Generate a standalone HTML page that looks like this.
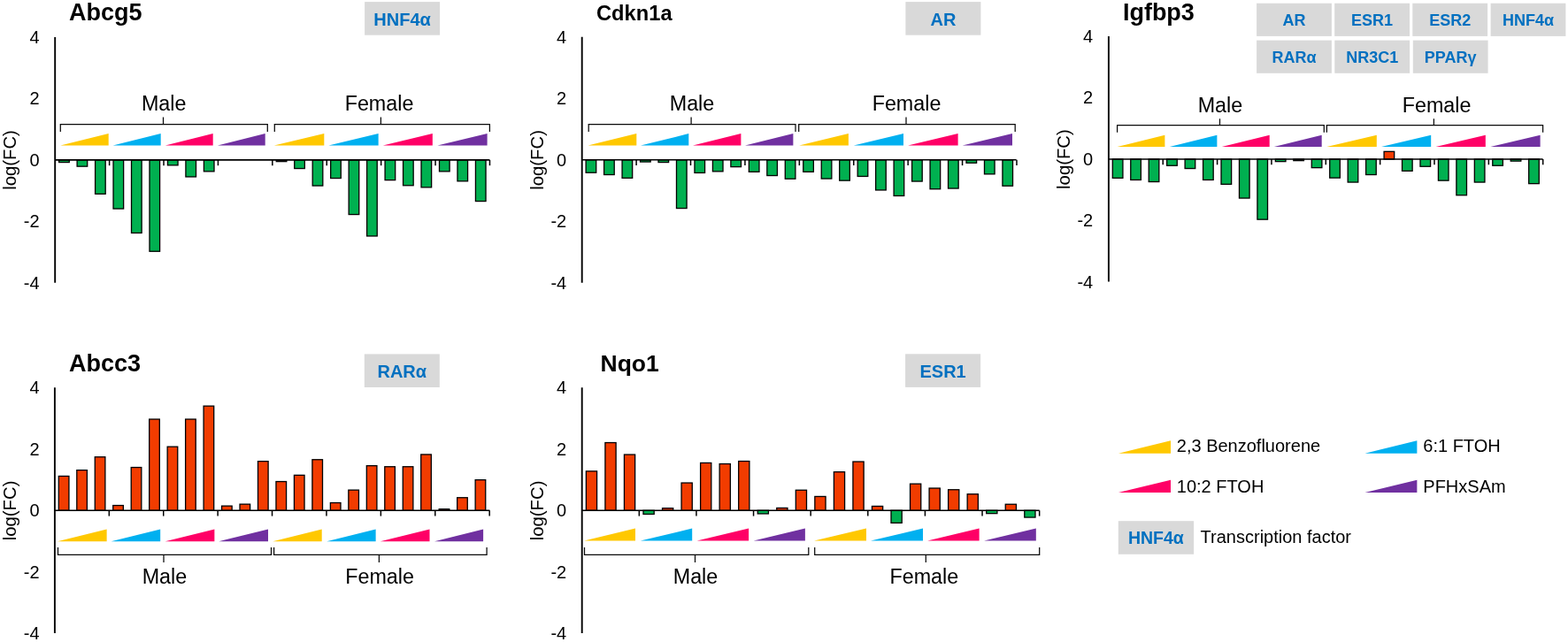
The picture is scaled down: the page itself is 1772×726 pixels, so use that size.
<!DOCTYPE html>
<html><head><meta charset="utf-8"><title>Figure</title>
<style>html,body{margin:0;padding:0;background:#fff;width:1772px;height:726px;overflow:hidden}svg{display:block}</style>
</head><body>
<svg width="1772" height="726" viewBox="0 0 1772 726">
<rect x="0" y="0" width="1772" height="726" fill="#FFFFFF"/>
<text x="78" y="23" font-family="'Liberation Sans', Arial, sans-serif" font-weight="bold" font-size="27" fill="#000">Abcg5</text>
<text x="44.6" y="48.85" text-anchor="end" font-family="'Liberation Sans', Arial, sans-serif" font-size="20" fill="#000">4</text>
<text x="44.6" y="118.28" text-anchor="end" font-family="'Liberation Sans', Arial, sans-serif" font-size="20" fill="#000">2</text>
<text x="44.6" y="187.7" text-anchor="end" font-family="'Liberation Sans', Arial, sans-serif" font-size="20" fill="#000">0</text>
<text x="44.6" y="257.12" text-anchor="end" font-family="'Liberation Sans', Arial, sans-serif" font-size="20" fill="#000">-2</text>
<text x="44.6" y="326.55" text-anchor="end" font-family="'Liberation Sans', Arial, sans-serif" font-size="20" fill="#000">-4</text>
<text transform="translate(18.4,181) rotate(-90)" text-anchor="middle" font-family="'Liberation Sans', Arial, sans-serif" font-size="20.3" fill="#000">log(FC)</text>
<rect x="66.64" y="180.9" width="11.6" height="2.65" fill="#00B050" stroke="#000" stroke-width="1.3"/>
<rect x="87.11" y="180.9" width="11.6" height="7.25" fill="#00B050" stroke="#000" stroke-width="1.3"/>
<rect x="107.58" y="180.9" width="11.6" height="38.45" fill="#00B050" stroke="#000" stroke-width="1.3"/>
<rect x="128.04" y="180.9" width="11.6" height="55.15" fill="#00B050" stroke="#000" stroke-width="1.3"/>
<rect x="148.52" y="180.9" width="11.6" height="82.55" fill="#00B050" stroke="#000" stroke-width="1.3"/>
<rect x="168.99" y="180.9" width="11.6" height="103.35" fill="#00B050" stroke="#000" stroke-width="1.3"/>
<rect x="189.46" y="180.9" width="11.6" height="5.95" fill="#00B050" stroke="#000" stroke-width="1.3"/>
<rect x="209.92" y="180.9" width="11.6" height="19.05" fill="#00B050" stroke="#000" stroke-width="1.3"/>
<rect x="230.4" y="180.9" width="11.6" height="12.95" fill="#00B050" stroke="#000" stroke-width="1.3"/>
<rect x="312.27" y="180.9" width="11.6" height="1.75" fill="#00B050" stroke="#000" stroke-width="1.3"/>
<rect x="332.74" y="180.9" width="11.6" height="9.65" fill="#00B050" stroke="#000" stroke-width="1.3"/>
<rect x="353.21" y="180.9" width="11.6" height="29.15" fill="#00B050" stroke="#000" stroke-width="1.3"/>
<rect x="373.68" y="180.9" width="11.6" height="20.65" fill="#00B050" stroke="#000" stroke-width="1.3"/>
<rect x="394.15" y="180.9" width="11.6" height="61.65" fill="#00B050" stroke="#000" stroke-width="1.3"/>
<rect x="414.62" y="180.9" width="11.6" height="86.05" fill="#00B050" stroke="#000" stroke-width="1.3"/>
<rect x="435.09" y="180.9" width="11.6" height="22.75" fill="#00B050" stroke="#000" stroke-width="1.3"/>
<rect x="455.56" y="180.9" width="11.6" height="28.85" fill="#00B050" stroke="#000" stroke-width="1.3"/>
<rect x="476.03" y="180.9" width="11.6" height="30.95" fill="#00B050" stroke="#000" stroke-width="1.3"/>
<rect x="496.5" y="180.9" width="11.6" height="12.95" fill="#00B050" stroke="#000" stroke-width="1.3"/>
<rect x="516.97" y="180.9" width="11.6" height="23.95" fill="#00B050" stroke="#000" stroke-width="1.3"/>
<rect x="537.44" y="180.9" width="11.6" height="46.65" fill="#00B050" stroke="#000" stroke-width="1.3"/>
<line x1="62.2" y1="180.9" x2="553.4" y2="180.9" stroke="#000" stroke-width="1.6"/>
<line x1="123.61" y1="180.9" x2="123.61" y2="187.2" stroke="#000" stroke-width="1.5"/>
<line x1="185.02" y1="180.9" x2="185.02" y2="187.2" stroke="#000" stroke-width="1.5"/>
<line x1="246.43" y1="180.9" x2="246.43" y2="187.2" stroke="#000" stroke-width="1.5"/>
<line x1="307.84" y1="180.9" x2="307.84" y2="187.2" stroke="#000" stroke-width="1.5"/>
<line x1="369.25" y1="180.9" x2="369.25" y2="187.2" stroke="#000" stroke-width="1.5"/>
<line x1="430.66" y1="180.9" x2="430.66" y2="187.2" stroke="#000" stroke-width="1.5"/>
<line x1="492.07" y1="180.9" x2="492.07" y2="187.2" stroke="#000" stroke-width="1.5"/>
<line x1="553.48" y1="180.9" x2="553.48" y2="187.2" stroke="#000" stroke-width="1.5"/>
<line x1="62.2" y1="42" x2="62.2" y2="319.7" stroke="#000" stroke-width="1.9"/>
<polygon points="68.3,164.6 122.7,151.1 122.7,164.6" fill="#FFC800"/>
<polygon points="127.6,164.6 181.7,151.1 181.7,164.6" fill="#00B0F0"/>
<polygon points="186.8,164.6 240.7,151.1 240.7,164.6" fill="#FF0066"/>
<polygon points="245.9,164.6 299.7,151.1 299.7,164.6" fill="#7030A0"/>
<polygon points="309.8,164.6 366.3,151.1 366.3,164.6" fill="#FFC800"/>
<polygon points="371.4,164.6 427.6,151.1 427.6,164.6" fill="#00B0F0"/>
<polygon points="432.8,164.6 488.8,151.1 488.8,164.6" fill="#FF0066"/>
<polygon points="494.4,164.6 550.6,151.1 550.6,164.6" fill="#7030A0"/>
<path d="M68.3,149 L68.3,140.6 L302.3,140.6 L302.3,149 M184.5,140.6 L184.5,132.5" fill="none" stroke="#0a0a0a" stroke-width="1.25"/>
<path d="M310.3,149 L310.3,140.6 L553.4,140.6 L553.4,149 M430.4,140.6 L430.4,132.5" fill="none" stroke="#0a0a0a" stroke-width="1.25"/>
<text x="185.2" y="125.3" text-anchor="middle" font-family="'Liberation Sans', Arial, sans-serif" font-size="23.3" fill="#000">Male</text>
<text x="428.5" y="125.3" text-anchor="middle" font-family="'Liberation Sans', Arial, sans-serif" font-size="23.3" fill="#000">Female</text>
<rect x="412.1" y="2.1" width="85" height="37.6" fill="#D9D9D9"/>
<text x="454.6" y="28.5" text-anchor="middle" font-family="'Liberation Sans', Arial, sans-serif" font-weight="bold" font-size="20" fill="#0070C0">HNF4α</text>
<text x="674" y="23.4" font-family="'Liberation Sans', Arial, sans-serif" font-weight="bold" font-size="23.7" fill="#000">Cdkn1a</text>
<text x="640.2" y="48.65" text-anchor="end" font-family="'Liberation Sans', Arial, sans-serif" font-size="20" fill="#000">4</text>
<text x="640.2" y="118.13" text-anchor="end" font-family="'Liberation Sans', Arial, sans-serif" font-size="20" fill="#000">2</text>
<text x="640.2" y="187.6" text-anchor="end" font-family="'Liberation Sans', Arial, sans-serif" font-size="20" fill="#000">0</text>
<text x="640.2" y="257.07" text-anchor="end" font-family="'Liberation Sans', Arial, sans-serif" font-size="20" fill="#000">-2</text>
<text x="640.2" y="326.55" text-anchor="end" font-family="'Liberation Sans', Arial, sans-serif" font-size="20" fill="#000">-4</text>
<text transform="translate(613.9,180.9) rotate(-90)" text-anchor="middle" font-family="'Liberation Sans', Arial, sans-serif" font-size="20.3" fill="#000">log(FC)</text>
<rect x="662.13" y="180.8" width="11.6" height="14.45" fill="#00B050" stroke="#000" stroke-width="1.3"/>
<rect x="682.61" y="180.8" width="11.6" height="16.75" fill="#00B050" stroke="#000" stroke-width="1.3"/>
<rect x="703.07" y="180.8" width="11.6" height="20.55" fill="#00B050" stroke="#000" stroke-width="1.3"/>
<rect x="723.54" y="180.8" width="11.6" height="2.25" fill="#00B050" stroke="#000" stroke-width="1.3"/>
<rect x="744.01" y="180.8" width="11.6" height="2.75" fill="#00B050" stroke="#000" stroke-width="1.3"/>
<rect x="764.49" y="180.8" width="11.6" height="54.75" fill="#00B050" stroke="#000" stroke-width="1.3"/>
<rect x="784.96" y="180.8" width="11.6" height="14.65" fill="#00B050" stroke="#000" stroke-width="1.3"/>
<rect x="805.42" y="180.8" width="11.6" height="13.05" fill="#00B050" stroke="#000" stroke-width="1.3"/>
<rect x="825.89" y="180.8" width="11.6" height="7.85" fill="#00B050" stroke="#000" stroke-width="1.3"/>
<rect x="846.36" y="180.8" width="11.6" height="13.55" fill="#00B050" stroke="#000" stroke-width="1.3"/>
<rect x="866.83" y="180.8" width="11.6" height="17.75" fill="#00B050" stroke="#000" stroke-width="1.3"/>
<rect x="887.3" y="180.8" width="11.6" height="21.45" fill="#00B050" stroke="#000" stroke-width="1.3"/>
<rect x="907.77" y="180.8" width="11.6" height="13.55" fill="#00B050" stroke="#000" stroke-width="1.3"/>
<rect x="928.25" y="180.8" width="11.6" height="21.25" fill="#00B050" stroke="#000" stroke-width="1.3"/>
<rect x="948.72" y="180.8" width="11.6" height="23.35" fill="#00B050" stroke="#000" stroke-width="1.3"/>
<rect x="969.18" y="180.8" width="11.6" height="18.65" fill="#00B050" stroke="#000" stroke-width="1.3"/>
<rect x="989.65" y="180.8" width="11.6" height="34.15" fill="#00B050" stroke="#000" stroke-width="1.3"/>
<rect x="1010.12" y="180.8" width="11.6" height="40.65" fill="#00B050" stroke="#000" stroke-width="1.3"/>
<rect x="1030.6" y="180.8" width="11.6" height="24.25" fill="#00B050" stroke="#000" stroke-width="1.3"/>
<rect x="1051.07" y="180.8" width="11.6" height="32.95" fill="#00B050" stroke="#000" stroke-width="1.3"/>
<rect x="1071.54" y="180.8" width="11.6" height="32.25" fill="#00B050" stroke="#000" stroke-width="1.3"/>
<rect x="1092.01" y="180.8" width="11.6" height="3.45" fill="#00B050" stroke="#000" stroke-width="1.3"/>
<rect x="1112.48" y="180.8" width="11.6" height="16.05" fill="#00B050" stroke="#000" stroke-width="1.3"/>
<rect x="1132.94" y="180.8" width="11.6" height="29.45" fill="#00B050" stroke="#000" stroke-width="1.3"/>
<line x1="657.7" y1="180.8" x2="1148.6" y2="180.8" stroke="#000" stroke-width="1.6"/>
<line x1="719.11" y1="180.8" x2="719.11" y2="187.1" stroke="#000" stroke-width="1.5"/>
<line x1="780.52" y1="180.8" x2="780.52" y2="187.1" stroke="#000" stroke-width="1.5"/>
<line x1="841.93" y1="180.8" x2="841.93" y2="187.1" stroke="#000" stroke-width="1.5"/>
<line x1="903.34" y1="180.8" x2="903.34" y2="187.1" stroke="#000" stroke-width="1.5"/>
<line x1="964.75" y1="180.8" x2="964.75" y2="187.1" stroke="#000" stroke-width="1.5"/>
<line x1="1026.16" y1="180.8" x2="1026.16" y2="187.1" stroke="#000" stroke-width="1.5"/>
<line x1="1087.57" y1="180.8" x2="1087.57" y2="187.1" stroke="#000" stroke-width="1.5"/>
<line x1="1148.98" y1="180.8" x2="1148.98" y2="187.1" stroke="#000" stroke-width="1.5"/>
<line x1="657.7" y1="41.8" x2="657.7" y2="319.7" stroke="#000" stroke-width="1.9"/>
<polygon points="664.5,164.6 719.3,151.1 719.3,164.6" fill="#FFC800"/>
<polygon points="724,164.6 778.3,151.1 778.3,164.6" fill="#00B0F0"/>
<polygon points="783,164.6 837.4,151.1 837.4,164.6" fill="#FF0066"/>
<polygon points="842,164.6 896.4,151.1 896.4,164.6" fill="#7030A0"/>
<polygon points="903.2,164.6 958.9,151.1 958.9,164.6" fill="#FFC800"/>
<polygon points="964.8,164.6 1021,151.1 1021,164.6" fill="#00B0F0"/>
<polygon points="1026.1,164.6 1082.6,151.1 1082.6,164.6" fill="#FF0066"/>
<polygon points="1087.7,164.6 1144,151.1 1144,164.6" fill="#7030A0"/>
<path d="M665.2,149 L665.2,140.5 L899,140.5 L899,149 M781.1,140.5 L781.1,132.5" fill="none" stroke="#0a0a0a" stroke-width="1.25"/>
<path d="M902.7,149 L902.7,140.5 L1147.2,140.5 L1147.2,149 M1024,140.5 L1024,132.5" fill="none" stroke="#0a0a0a" stroke-width="1.25"/>
<text x="782" y="125.3" text-anchor="middle" font-family="'Liberation Sans', Arial, sans-serif" font-size="23.3" fill="#000">Male</text>
<text x="1024.5" y="125.3" text-anchor="middle" font-family="'Liberation Sans', Arial, sans-serif" font-size="23.3" fill="#000">Female</text>
<rect x="1023.4" y="2.1" width="85" height="37.6" fill="#D9D9D9"/>
<text x="1065.9" y="28.5" text-anchor="middle" font-family="'Liberation Sans', Arial, sans-serif" font-weight="bold" font-size="20" fill="#0070C0">AR</text>
<text x="1268.9" y="22.5" font-family="'Liberation Sans', Arial, sans-serif" font-weight="bold" font-size="27" fill="#000">Igfbp3</text>
<text x="1235.2" y="48" text-anchor="end" font-family="'Liberation Sans', Arial, sans-serif" font-size="20" fill="#000">4</text>
<text x="1235.2" y="117.4" text-anchor="end" font-family="'Liberation Sans', Arial, sans-serif" font-size="20" fill="#000">2</text>
<text x="1235.2" y="186.8" text-anchor="end" font-family="'Liberation Sans', Arial, sans-serif" font-size="20" fill="#000">0</text>
<text x="1235.2" y="256.2" text-anchor="end" font-family="'Liberation Sans', Arial, sans-serif" font-size="20" fill="#000">-2</text>
<text x="1235.2" y="325.6" text-anchor="end" font-family="'Liberation Sans', Arial, sans-serif" font-size="20" fill="#000">-4</text>
<text transform="translate(1209.1,180.1) rotate(-90)" text-anchor="middle" font-family="'Liberation Sans', Arial, sans-serif" font-size="20.3" fill="#000">log(FC)</text>
<rect x="1257.33" y="180" width="11.6" height="21.35" fill="#00B050" stroke="#000" stroke-width="1.3"/>
<rect x="1277.78" y="180" width="11.6" height="23.45" fill="#00B050" stroke="#000" stroke-width="1.3"/>
<rect x="1298.23" y="180" width="11.6" height="25.55" fill="#00B050" stroke="#000" stroke-width="1.3"/>
<rect x="1318.68" y="180" width="11.6" height="7.25" fill="#00B050" stroke="#000" stroke-width="1.3"/>
<rect x="1339.13" y="180" width="11.6" height="10.55" fill="#00B050" stroke="#000" stroke-width="1.3"/>
<rect x="1359.58" y="180" width="11.6" height="23.45" fill="#00B050" stroke="#000" stroke-width="1.3"/>
<rect x="1380.03" y="180" width="11.6" height="28.35" fill="#00B050" stroke="#000" stroke-width="1.3"/>
<rect x="1400.48" y="180" width="11.6" height="44.05" fill="#00B050" stroke="#000" stroke-width="1.3"/>
<rect x="1420.93" y="180" width="11.6" height="68.15" fill="#00B050" stroke="#000" stroke-width="1.3"/>
<rect x="1441.38" y="180" width="11.6" height="2.65" fill="#00B050" stroke="#000" stroke-width="1.3"/>
<rect x="1461.83" y="180" width="11.6" height="1.65" fill="#00B050" stroke="#000" stroke-width="1.3"/>
<rect x="1482.28" y="180" width="11.6" height="9.65" fill="#00B050" stroke="#000" stroke-width="1.3"/>
<rect x="1502.73" y="180" width="11.6" height="21.15" fill="#00B050" stroke="#000" stroke-width="1.3"/>
<rect x="1523.18" y="180" width="11.6" height="26.05" fill="#00B050" stroke="#000" stroke-width="1.3"/>
<rect x="1543.63" y="180" width="11.6" height="17.55" fill="#00B050" stroke="#000" stroke-width="1.3"/>
<rect x="1564.08" y="171.35" width="11.6" height="8.65" fill="#F23C00" stroke="#000" stroke-width="1.3"/>
<rect x="1584.53" y="180" width="11.6" height="13.35" fill="#00B050" stroke="#000" stroke-width="1.3"/>
<rect x="1604.98" y="180" width="11.6" height="8.25" fill="#00B050" stroke="#000" stroke-width="1.3"/>
<rect x="1625.43" y="180" width="11.6" height="24.15" fill="#00B050" stroke="#000" stroke-width="1.3"/>
<rect x="1645.88" y="180" width="11.6" height="40.75" fill="#00B050" stroke="#000" stroke-width="1.3"/>
<rect x="1666.33" y="180" width="11.6" height="26.05" fill="#00B050" stroke="#000" stroke-width="1.3"/>
<rect x="1686.78" y="180" width="11.6" height="7.25" fill="#00B050" stroke="#000" stroke-width="1.3"/>
<rect x="1707.23" y="180" width="11.6" height="2.15" fill="#00B050" stroke="#000" stroke-width="1.3"/>
<rect x="1727.68" y="180" width="11.6" height="27.65" fill="#00B050" stroke="#000" stroke-width="1.3"/>
<line x1="1252.9" y1="180" x2="1743.6" y2="180" stroke="#000" stroke-width="1.6"/>
<line x1="1314.25" y1="180" x2="1314.25" y2="186.3" stroke="#000" stroke-width="1.5"/>
<line x1="1375.6" y1="180" x2="1375.6" y2="186.3" stroke="#000" stroke-width="1.5"/>
<line x1="1436.95" y1="180" x2="1436.95" y2="186.3" stroke="#000" stroke-width="1.5"/>
<line x1="1498.3" y1="180" x2="1498.3" y2="186.3" stroke="#000" stroke-width="1.5"/>
<line x1="1559.65" y1="180" x2="1559.65" y2="186.3" stroke="#000" stroke-width="1.5"/>
<line x1="1621" y1="180" x2="1621" y2="186.3" stroke="#000" stroke-width="1.5"/>
<line x1="1682.35" y1="180" x2="1682.35" y2="186.3" stroke="#000" stroke-width="1.5"/>
<line x1="1743.7" y1="180" x2="1743.7" y2="186.3" stroke="#000" stroke-width="1.5"/>
<line x1="1252.9" y1="41" x2="1252.9" y2="318.6" stroke="#000" stroke-width="1.9"/>
<polygon points="1262.6,166.1 1316.4,152.7 1316.4,166.1" fill="#FFC800"/>
<polygon points="1321.8,166.1 1375.4,152.7 1375.4,166.1" fill="#00B0F0"/>
<polygon points="1380.8,166.1 1434.7,152.7 1434.7,166.1" fill="#FF0066"/>
<polygon points="1439.8,166.1 1493.7,152.7 1493.7,166.1" fill="#7030A0"/>
<polygon points="1499.4,166.1 1555.8,152.7 1555.8,166.1" fill="#FFC800"/>
<polygon points="1561,166.1 1617.2,152.7 1617.2,166.1" fill="#00B0F0"/>
<polygon points="1622.6,166.1 1678.8,152.7 1678.8,166.1" fill="#FF0066"/>
<polygon points="1684.4,166.1 1740.6,152.7 1740.6,166.1" fill="#7030A0"/>
<path d="M1262.6,149.7 L1262.6,141.5 L1496.3,141.5 L1496.3,149.7 M1378.5,141.5 L1378.5,134.2" fill="none" stroke="#0a0a0a" stroke-width="1.25"/>
<path d="M1499.4,149.7 L1499.4,141.5 L1743.6,141.5 L1743.6,149.7 M1620.4,141.5 L1620.4,134.2" fill="none" stroke="#0a0a0a" stroke-width="1.25"/>
<text x="1378.9" y="126.6" text-anchor="middle" font-family="'Liberation Sans', Arial, sans-serif" font-size="23.3" fill="#000">Male</text>
<text x="1623.6" y="126.6" text-anchor="middle" font-family="'Liberation Sans', Arial, sans-serif" font-size="23.3" fill="#000">Female</text>
<text x="78" y="420.1" font-family="'Liberation Sans', Arial, sans-serif" font-weight="bold" font-size="27" fill="#000">Abcc3</text>
<text x="44.6" y="445.25" text-anchor="end" font-family="'Liberation Sans', Arial, sans-serif" font-size="20" fill="#000">4</text>
<text x="44.6" y="514.67" text-anchor="end" font-family="'Liberation Sans', Arial, sans-serif" font-size="20" fill="#000">2</text>
<text x="44.6" y="584.1" text-anchor="end" font-family="'Liberation Sans', Arial, sans-serif" font-size="20" fill="#000">0</text>
<text x="44.6" y="653.52" text-anchor="end" font-family="'Liberation Sans', Arial, sans-serif" font-size="20" fill="#000">-2</text>
<text x="44.6" y="722.95" text-anchor="end" font-family="'Liberation Sans', Arial, sans-serif" font-size="20" fill="#000">-4</text>
<text transform="translate(18.1,577.4) rotate(-90)" text-anchor="middle" font-family="'Liberation Sans', Arial, sans-serif" font-size="20.3" fill="#000">log(FC)</text>
<rect x="66.33" y="538.45" width="11.6" height="38.85" fill="#F23C00" stroke="#000" stroke-width="1.3"/>
<rect x="86.8" y="531.65" width="11.6" height="45.65" fill="#F23C00" stroke="#000" stroke-width="1.3"/>
<rect x="107.27" y="516.75" width="11.6" height="60.55" fill="#F23C00" stroke="#000" stroke-width="1.3"/>
<rect x="127.74" y="571.55" width="11.6" height="5.75" fill="#F23C00" stroke="#000" stroke-width="1.3"/>
<rect x="148.22" y="528.55" width="11.6" height="48.75" fill="#F23C00" stroke="#000" stroke-width="1.3"/>
<rect x="168.69" y="474.05" width="11.6" height="103.25" fill="#F23C00" stroke="#000" stroke-width="1.3"/>
<rect x="189.16" y="505.15" width="11.6" height="72.15" fill="#F23C00" stroke="#000" stroke-width="1.3"/>
<rect x="209.62" y="474.05" width="11.6" height="103.25" fill="#F23C00" stroke="#000" stroke-width="1.3"/>
<rect x="230.1" y="459.15" width="11.6" height="118.15" fill="#F23C00" stroke="#000" stroke-width="1.3"/>
<rect x="250.56" y="572.15" width="11.6" height="5.15" fill="#F23C00" stroke="#000" stroke-width="1.3"/>
<rect x="271.03" y="570.15" width="11.6" height="7.15" fill="#F23C00" stroke="#000" stroke-width="1.3"/>
<rect x="291.5" y="521.65" width="11.6" height="55.65" fill="#F23C00" stroke="#000" stroke-width="1.3"/>
<rect x="311.97" y="544.55" width="11.6" height="32.75" fill="#F23C00" stroke="#000" stroke-width="1.3"/>
<rect x="332.44" y="537.35" width="11.6" height="39.95" fill="#F23C00" stroke="#000" stroke-width="1.3"/>
<rect x="352.91" y="519.75" width="11.6" height="57.55" fill="#F23C00" stroke="#000" stroke-width="1.3"/>
<rect x="373.38" y="568.55" width="11.6" height="8.75" fill="#F23C00" stroke="#000" stroke-width="1.3"/>
<rect x="393.85" y="554.15" width="11.6" height="23.15" fill="#F23C00" stroke="#000" stroke-width="1.3"/>
<rect x="414.32" y="526.65" width="11.6" height="50.65" fill="#F23C00" stroke="#000" stroke-width="1.3"/>
<rect x="434.79" y="527.75" width="11.6" height="49.55" fill="#F23C00" stroke="#000" stroke-width="1.3"/>
<rect x="455.26" y="527.75" width="11.6" height="49.55" fill="#F23C00" stroke="#000" stroke-width="1.3"/>
<rect x="475.73" y="513.95" width="11.6" height="63.35" fill="#F23C00" stroke="#000" stroke-width="1.3"/>
<rect x="496.2" y="575.65" width="11.6" height="1.65" fill="#F23C00" stroke="#000" stroke-width="1.3"/>
<rect x="516.67" y="562.75" width="11.6" height="14.55" fill="#F23C00" stroke="#000" stroke-width="1.3"/>
<rect x="537.14" y="542.65" width="11.6" height="34.65" fill="#F23C00" stroke="#000" stroke-width="1.3"/>
<line x1="61.9" y1="577.3" x2="553.4" y2="577.3" stroke="#000" stroke-width="1.6"/>
<line x1="123.31" y1="577.3" x2="123.31" y2="583.6" stroke="#000" stroke-width="1.5"/>
<line x1="184.72" y1="577.3" x2="184.72" y2="583.6" stroke="#000" stroke-width="1.5"/>
<line x1="246.13" y1="577.3" x2="246.13" y2="583.6" stroke="#000" stroke-width="1.5"/>
<line x1="307.54" y1="577.3" x2="307.54" y2="583.6" stroke="#000" stroke-width="1.5"/>
<line x1="368.95" y1="577.3" x2="368.95" y2="583.6" stroke="#000" stroke-width="1.5"/>
<line x1="430.36" y1="577.3" x2="430.36" y2="583.6" stroke="#000" stroke-width="1.5"/>
<line x1="491.77" y1="577.3" x2="491.77" y2="583.6" stroke="#000" stroke-width="1.5"/>
<line x1="553.18" y1="577.3" x2="553.18" y2="583.6" stroke="#000" stroke-width="1.5"/>
<line x1="61.9" y1="438.3" x2="61.9" y2="716" stroke="#000" stroke-width="1.9"/>
<polygon points="65,612.2 120.6,598.4 120.6,612.2" fill="#FFC800"/>
<polygon points="125.6,612.2 181.2,598.4 181.2,612.2" fill="#00B0F0"/>
<polygon points="186.7,612.2 242.4,598.4 242.4,612.2" fill="#FF0066"/>
<polygon points="247.3,612.2 303,598.4 303,612.2" fill="#7030A0"/>
<polygon points="308.3,612.2 363.7,598.4 363.7,612.2" fill="#FFC800"/>
<polygon points="369.2,612.2 424.6,598.4 424.6,612.2" fill="#00B0F0"/>
<polygon points="429.8,612.2 485.5,598.4 485.5,612.2" fill="#FF0066"/>
<polygon points="491,612.2 546.1,598.4 546.1,612.2" fill="#7030A0"/>
<path d="M65.5,619 L65.5,627.3 L306.5,627.3 L306.5,619 M185,627.3 L185,636" fill="none" stroke="#0a0a0a" stroke-width="1.25"/>
<path d="M309.6,619 L309.6,627.3 L550.1,627.3 L550.1,619 M428.4,627.3 L428.4,636" fill="none" stroke="#0a0a0a" stroke-width="1.25"/>
<text x="185.9" y="659.8" text-anchor="middle" font-family="'Liberation Sans', Arial, sans-serif" font-size="23.3" fill="#000">Male</text>
<text x="429.1" y="659.8" text-anchor="middle" font-family="'Liberation Sans', Arial, sans-serif" font-size="23.3" fill="#000">Female</text>
<rect x="411.8" y="400.4" width="85" height="37.6" fill="#D9D9D9"/>
<text x="454.3" y="426.8" text-anchor="middle" font-family="'Liberation Sans', Arial, sans-serif" font-weight="bold" font-size="20" fill="#0070C0">RARα</text>
<text x="678.5" y="419.5" font-family="'Liberation Sans', Arial, sans-serif" font-weight="bold" font-size="26.5" fill="#000">Nqo1</text>
<text x="640.2" y="445.25" text-anchor="end" font-family="'Liberation Sans', Arial, sans-serif" font-size="20" fill="#000">4</text>
<text x="640.2" y="514.67" text-anchor="end" font-family="'Liberation Sans', Arial, sans-serif" font-size="20" fill="#000">2</text>
<text x="640.2" y="584.1" text-anchor="end" font-family="'Liberation Sans', Arial, sans-serif" font-size="20" fill="#000">0</text>
<text x="640.2" y="653.52" text-anchor="end" font-family="'Liberation Sans', Arial, sans-serif" font-size="20" fill="#000">-2</text>
<text x="640.2" y="722.95" text-anchor="end" font-family="'Liberation Sans', Arial, sans-serif" font-size="20" fill="#000">-4</text>
<text transform="translate(613.9,577.4) rotate(-90)" text-anchor="middle" font-family="'Liberation Sans', Arial, sans-serif" font-size="20.3" fill="#000">log(FC)</text>
<rect x="662.37" y="532.85" width="12.2" height="44.45" fill="#F23C00" stroke="#000" stroke-width="1.3"/>
<rect x="683.91" y="500.55" width="12.2" height="76.75" fill="#F23C00" stroke="#000" stroke-width="1.3"/>
<rect x="705.45" y="514.05" width="12.2" height="63.25" fill="#F23C00" stroke="#000" stroke-width="1.3"/>
<rect x="726.99" y="577.3" width="12.2" height="4.15" fill="#00B050" stroke="#000" stroke-width="1.3"/>
<rect x="748.53" y="574.65" width="12.2" height="2.65" fill="#F23C00" stroke="#000" stroke-width="1.3"/>
<rect x="770.07" y="546.05" width="12.2" height="31.25" fill="#F23C00" stroke="#000" stroke-width="1.3"/>
<rect x="791.61" y="523.45" width="12.2" height="53.85" fill="#F23C00" stroke="#000" stroke-width="1.3"/>
<rect x="813.15" y="524.55" width="12.2" height="52.75" fill="#F23C00" stroke="#000" stroke-width="1.3"/>
<rect x="834.69" y="521.55" width="12.2" height="55.75" fill="#F23C00" stroke="#000" stroke-width="1.3"/>
<rect x="856.23" y="577.3" width="12.2" height="3.65" fill="#00B050" stroke="#000" stroke-width="1.3"/>
<rect x="877.77" y="574.45" width="12.2" height="2.85" fill="#F23C00" stroke="#000" stroke-width="1.3"/>
<rect x="899.31" y="554.25" width="12.2" height="23.05" fill="#F23C00" stroke="#000" stroke-width="1.3"/>
<rect x="920.85" y="561.45" width="12.2" height="15.85" fill="#F23C00" stroke="#000" stroke-width="1.3"/>
<rect x="942.39" y="533.65" width="12.2" height="43.65" fill="#F23C00" stroke="#000" stroke-width="1.3"/>
<rect x="963.93" y="522.05" width="12.2" height="55.25" fill="#F23C00" stroke="#000" stroke-width="1.3"/>
<rect x="985.47" y="572.45" width="12.2" height="4.85" fill="#F23C00" stroke="#000" stroke-width="1.3"/>
<rect x="1007.01" y="577.3" width="12.2" height="14.05" fill="#00B050" stroke="#000" stroke-width="1.3"/>
<rect x="1028.55" y="547.15" width="12.2" height="30.15" fill="#F23C00" stroke="#000" stroke-width="1.3"/>
<rect x="1050.09" y="552.05" width="12.2" height="25.25" fill="#F23C00" stroke="#000" stroke-width="1.3"/>
<rect x="1071.63" y="553.75" width="12.2" height="23.55" fill="#F23C00" stroke="#000" stroke-width="1.3"/>
<rect x="1093.17" y="558.75" width="12.2" height="18.55" fill="#F23C00" stroke="#000" stroke-width="1.3"/>
<rect x="1114.71" y="577.3" width="12.2" height="3.35" fill="#00B050" stroke="#000" stroke-width="1.3"/>
<rect x="1136.25" y="570.25" width="12.2" height="7.05" fill="#F23C00" stroke="#000" stroke-width="1.3"/>
<rect x="1157.79" y="577.3" width="12.2" height="7.75" fill="#00B050" stroke="#000" stroke-width="1.3"/>
<line x1="657.7" y1="577.3" x2="1174.7" y2="577.3" stroke="#000" stroke-width="1.6"/>
<line x1="722.32" y1="577.3" x2="722.32" y2="583.6" stroke="#000" stroke-width="1.5"/>
<line x1="786.94" y1="577.3" x2="786.94" y2="583.6" stroke="#000" stroke-width="1.5"/>
<line x1="851.56" y1="577.3" x2="851.56" y2="583.6" stroke="#000" stroke-width="1.5"/>
<line x1="916.18" y1="577.3" x2="916.18" y2="583.6" stroke="#000" stroke-width="1.5"/>
<line x1="980.8" y1="577.3" x2="980.8" y2="583.6" stroke="#000" stroke-width="1.5"/>
<line x1="1045.42" y1="577.3" x2="1045.42" y2="583.6" stroke="#000" stroke-width="1.5"/>
<line x1="1110.04" y1="577.3" x2="1110.04" y2="583.6" stroke="#000" stroke-width="1.5"/>
<line x1="1174.66" y1="577.3" x2="1174.66" y2="583.6" stroke="#000" stroke-width="1.5"/>
<line x1="657.7" y1="438.3" x2="657.7" y2="716" stroke="#000" stroke-width="1.9"/>
<polygon points="660.2,611.6 718,597.6 718,611.6" fill="#FFC800"/>
<polygon points="723.8,611.6 782.2,597.6 782.2,611.6" fill="#00B0F0"/>
<polygon points="787.7,611.6 846.1,597.6 846.1,611.6" fill="#FF0066"/>
<polygon points="851.7,611.6 909.9,597.6 909.9,611.6" fill="#7030A0"/>
<polygon points="920.1,611.6 979,597.6 979,611.6" fill="#FFC800"/>
<polygon points="984,611.6 1043,597.6 1043,611.6" fill="#00B0F0"/>
<polygon points="1048.2,611.6 1106.6,597.6 1106.6,611.6" fill="#FF0066"/>
<polygon points="1112.1,611.6 1170.8,597.6 1170.8,611.6" fill="#7030A0"/>
<path d="M660.5,619 L660.5,627.3 L913.8,627.3 L913.8,619 M785.5,627.3 L785.5,636" fill="none" stroke="#0a0a0a" stroke-width="1.25"/>
<path d="M920.7,619 L920.7,627.3 L1174.7,627.3 L1174.7,619 M1046.3,627.3 L1046.3,636" fill="none" stroke="#0a0a0a" stroke-width="1.25"/>
<text x="786" y="659.8" text-anchor="middle" font-family="'Liberation Sans', Arial, sans-serif" font-size="23.3" fill="#000">Male</text>
<text x="1044.3" y="659.8" text-anchor="middle" font-family="'Liberation Sans', Arial, sans-serif" font-size="23.3" fill="#000">Female</text>
<rect x="1023.1" y="400.3" width="85" height="37.6" fill="#D9D9D9"/>
<text x="1065.6" y="426.7" text-anchor="middle" font-family="'Liberation Sans', Arial, sans-serif" font-weight="bold" font-size="20" fill="#0070C0">ESR1</text>
<rect x="1420.1" y="3.7" width="84.8" height="37.2" fill="#D9D9D9"/>
<text x="1462.5" y="29.2" text-anchor="middle" font-family="'Liberation Sans', Arial, sans-serif" font-weight="bold" font-size="18" fill="#0070C0">AR</text>
<rect x="1508.2" y="3.7" width="84.8" height="37.2" fill="#D9D9D9"/>
<text x="1550.6" y="29.2" text-anchor="middle" font-family="'Liberation Sans', Arial, sans-serif" font-weight="bold" font-size="18" fill="#0070C0">ESR1</text>
<rect x="1596.3" y="3.7" width="84.8" height="37.2" fill="#D9D9D9"/>
<text x="1638.7" y="29.2" text-anchor="middle" font-family="'Liberation Sans', Arial, sans-serif" font-weight="bold" font-size="18" fill="#0070C0">ESR2</text>
<rect x="1684.6" y="3.7" width="84.8" height="37.2" fill="#D9D9D9"/>
<text x="1727" y="29.2" text-anchor="middle" font-family="'Liberation Sans', Arial, sans-serif" font-weight="bold" font-size="18" fill="#0070C0">HNF4α</text>
<rect x="1420.1" y="45.6" width="84.8" height="37.2" fill="#D9D9D9"/>
<text x="1462.5" y="71.1" text-anchor="middle" font-family="'Liberation Sans', Arial, sans-serif" font-weight="bold" font-size="18" fill="#0070C0">RARα</text>
<rect x="1508.3" y="45.6" width="84.8" height="37.2" fill="#D9D9D9"/>
<text x="1550.7" y="71.1" text-anchor="middle" font-family="'Liberation Sans', Arial, sans-serif" font-weight="bold" font-size="18" fill="#0070C0">NR3C1</text>
<rect x="1596.8" y="45.6" width="84.8" height="37.2" fill="#D9D9D9"/>
<text x="1639.2" y="71.1" text-anchor="middle" font-family="'Liberation Sans', Arial, sans-serif" font-weight="bold" font-size="18" fill="#0070C0">PPARγ</text>
<polygon points="1264,512.7 1323,498.2 1323,512.7" fill="#FFC800"/>
<text x="1329.8" y="511.1" font-family="'Liberation Sans', Arial, sans-serif" font-size="20" fill="#000">2,3 Benzofluorene</text>
<polygon points="1542.5,512.7 1601.4,498.2 1601.4,512.7" fill="#00B0F0"/>
<text x="1608.3" y="511.1" font-family="'Liberation Sans', Arial, sans-serif" font-size="20" fill="#000">6:1 FTOH</text>
<polygon points="1264,557 1323,542.8 1323,557" fill="#FF0066"/>
<text x="1329.8" y="556.9" font-family="'Liberation Sans', Arial, sans-serif" font-size="20" fill="#000">10:2 FTOH</text>
<polygon points="1542.5,557 1601.4,542.8 1601.4,557" fill="#7030A0"/>
<text x="1608.3" y="556.9" font-family="'Liberation Sans', Arial, sans-serif" font-size="20" fill="#000">PFHxSAm</text>
<rect x="1263.8" y="589.2" width="85.3" height="37.6" fill="#D9D9D9"/>
<text x="1306.4" y="614.9" text-anchor="middle" font-family="'Liberation Sans', Arial, sans-serif" font-weight="bold" font-size="19.5" fill="#0070C0">HNF4α</text>
<text x="1356.6" y="613.8" font-family="'Liberation Sans', Arial, sans-serif" font-size="20" fill="#000">Transcription factor</text>
</svg>
</body></html>
